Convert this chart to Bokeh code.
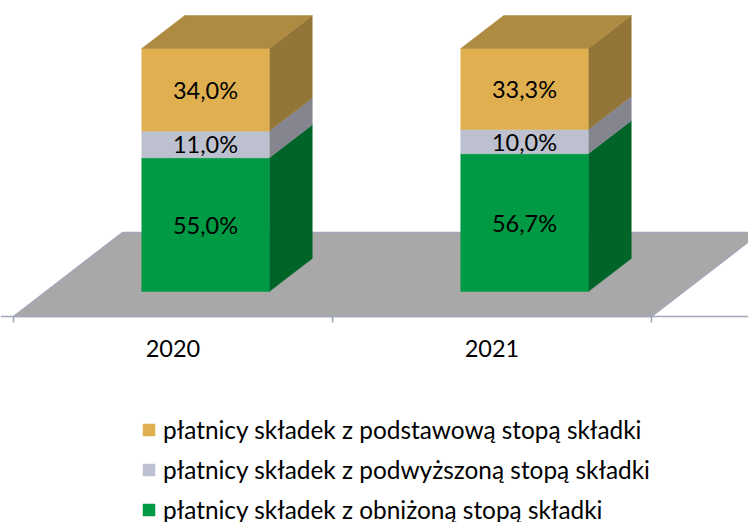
from bokeh.plotting import figure
from bokeh.models import Range1d, LinearAxis, FixedTicker, Legend, LegendItem
from bokeh.core.properties import value
from bokeh.embed import file_html
from bokeh.resources import INLINE

categories = ["2020", "2021"]
obnizona = [55.0, 56.7]
podwyzszona = [11.0, 10.0]
podstawowa = [34.0, 33.3]
labels = {
    "obnizona": ["55,0%", "56,7%"],
    "podwyzszona": ["11,0%", "10,0%"],
    "podstawowa": ["34,0%", "33,3%"],
}
legend_labels = [
    "płatnicy składek z podstawową stopą składki",
    "płatnicy składek z podwyższoną stopą składki",
    "płatnicy składek z obniżoną stopą składki",
]

# layout (pixels per data unit and the oblique projection)
PXU, PXV = 319.0, 2.43
FONT = "Lato"
FS = "23.5px"
TXT = "#000000"
ORG_U = 13.0
BAR_W = 127.5 / PXU
DEPTH_U, DEPTH_V = 43.0 / PXU, 33.0 / PXV
FLOOR_U, FLOOR_V = 109.0 / PXU, 84.0 / PXV
BAR_SHIFT_U, FLOOR_Y = 32.5 / PXU, -25.0 / PXV

W, H = 748, 522
x0 = (0 - ORG_U) / PXU
y1 = 291 / PXV
p = figure(width=W, height=H, output_backend="svg", toolbar_location=None,
           x_range=Range1d(x0, x0 + W / PXU), y_range=Range1d(y1 - H / PXV, y1),
           min_border=0, outline_line_color=None, background_fill_color="white",
           border_fill_color="white", x_axis_location=None, y_axis_location=None)
p.grid.visible = False

# floor
n = len(categories)
p.patch([0, n, n + FLOOR_U, FLOOR_U],
        [FLOOR_Y, FLOOR_Y, FLOOR_Y + FLOOR_V, FLOOR_Y + FLOOR_V],
        fill_color="#A8A8A8", line_color="#A3A7B8", line_width=1.5)

# axis on the floor's front edge
ax = LinearAxis(ticker=FixedTicker(ticks=[i + 0.5 for i in range(n)], minor_ticks=list(range(n + 1))),
                fixed_location=FLOOR_Y,
                major_label_overrides={i + 0.5: c for i, c in enumerate(categories)},
                major_tick_line_color=None, major_tick_in=0, major_tick_out=0,
                minor_tick_in=0, minor_tick_out=6, minor_tick_line_color="#9AA0B4",
                minor_tick_line_width=1.5, axis_line_color="#A3A7B8", axis_line_width=1.5,
                major_label_standoff=17, major_label_text_font=FONT,
                major_label_text_font_size=FS, major_label_text_color=TXT)
p.add_layout(ax, "below")

series = [
    ("obnizona", obnizona, "#009A44", "#006428", None),
    ("podwyzszona", podwyzszona, "#BDC0CE", "#84858F", None),
    ("podstawowa", podstawowa, "#E0B050", "#937637", "#AF8B42"),
]
fronts = {}
bottoms = [0.0] * n
text_x, text_y, text_s = [], [], []
for name, vals, front, side, top in series:
    tops = [b + v for b, v in zip(bottoms, vals)]
    lefts = [i + 0.5 + BAR_SHIFT_U - BAR_W / 2 for i in range(n)]
    rights = [l + BAR_W for l in lefts]
    p.patches([[r, r + DEPTH_U, r + DEPTH_U, r] for r in rights],
              [[b, b + DEPTH_V, t + DEPTH_V, t] for b, t in zip(bottoms, tops)],
              fill_color=side, line_color=side, line_width=0.5)
    fronts[name] = p.quad(left=lefts, right=rights, bottom=bottoms, top=tops,
                          fill_color=front, line_color=front, line_width=0.5)
    if top:
        p.patches([[l, r, r + DEPTH_U, l + DEPTH_U] for l, r in zip(lefts, rights)],
                  [[t, t, t + DEPTH_V, t + DEPTH_V] for t in tops],
                  fill_color=top, line_color=top, line_width=0.5)
    for i in range(n):
        text_x.append((lefts[i] + rights[i]) / 2)
        text_y.append((bottoms[i] + tops[i]) / 2)
        text_s.append(labels[name][i])
    bottoms = tops

p.text(x=text_x, y=text_y, text=text_s, text_align="center", text_baseline="middle",
       text_font=value(FONT), text_font_size=FS, text_color=TXT)

legend = Legend(items=[LegendItem(label=legend_labels[0], renderers=[fronts["podstawowa"]]),
                       LegendItem(label=legend_labels[1], renderers=[fronts["podwyzszona"]]),
                       LegendItem(label=legend_labels[2], renderers=[fronts["obnizona"]])],
                location=(141, -2), orientation="vertical", padding=0, margin=0, spacing=11,
                border_line_color=None, background_fill_alpha=0,
                glyph_width=15, glyph_height=15, label_standoff=7, label_height=15,
                label_text_font=FONT, label_text_font_size="24.4px", label_text_color=TXT,
                label_text_baseline="middle")
p.add_layout(legend, "center")

open("out.html", "w").write(file_html(p, INLINE))
